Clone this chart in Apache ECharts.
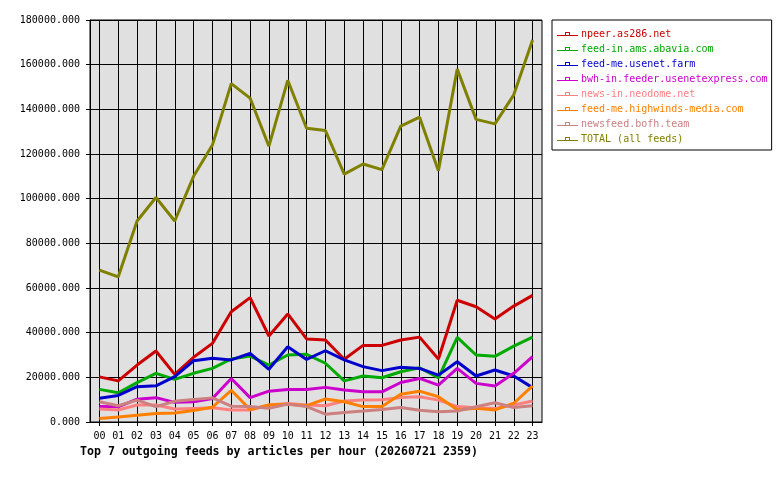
<!DOCTYPE html>
<html>
<head>
<meta charset="utf-8">
<script src="https://cdn.jsdelivr.net/npm/echarts@6/dist/echarts.min.js"></script>
<style>html,body{margin:0;padding:0;background:#fff}#c{width:780px;height:480px}</style>
</head>
<body>
<div id="c"></div>
<script>
var hours = ['00','01','02','03','04','05','06','07','08','09','10','11','12','13','14','15','16','17','18','19','20','21','22','23'];
var seriesNames = ['npeer.as286.net','feed-in.ams.abavia.com','feed-me.usenet.farm','bwh-in.feeder.usenetexpress.com','news-in.neodome.net','feed-me.highwinds-media.com','newsfeed.bofh.team','TOTAL (all feeds)'];
var seriesColors = ['#cc0000','#00aa00','#0000cc','#cc00cc','#ff8080','#ff8000','#cc8080','#808000'];
var npeer = [20200,18400,25500,31800,21300,29000,35200,49400,55700,38500,48400,37200,36700,28100,34300,34300,36700,38000,28200,54500,51600,46100,51900,56700];
var abavia = [14600,13100,17600,21800,19100,21800,24000,28200,29500,25500,30000,30300,26300,18400,20600,19800,22500,24300,19800,37900,30000,29400,34000,38000];
var usenetFarm = [10600,11900,15800,16200,20300,27400,28500,27800,30700,23600,33700,28000,31900,27800,24800,23000,24500,24000,21000,27000,20600,23300,20600,15400];
var usenetExpress = [6900,6800,10200,10900,8800,9100,10500,19500,10900,13800,14600,14600,15500,14300,13500,13500,17700,19500,16500,24000,17300,16100,21800,29300];
var neodome = [5800,5400,7600,7600,5800,6100,6400,5400,5400,7600,8300,7600,7300,9400,9800,10000,11000,11300,9800,6900,6400,6100,7600,9400];
var highwinds = [1600,2200,3000,3800,4000,5100,6600,14200,5600,7600,7900,7300,10300,9100,6900,6900,12400,13800,11300,5500,6100,5400,8400,16200];
var bofh = [9100,7300,9800,6900,9300,10100,10800,7100,6900,6100,8000,6900,3500,4300,4900,5600,6500,5300,4600,4900,6800,8600,6500,7300];
var total = [68000,65000,90000,100500,90000,110000,124000,151500,145000,123500,153000,131500,130500,111000,115500,113000,132500,136500,112500,158000,135500,133500,146500,171000];
var yTicks = {min: 0, max: 180000, step: 20000};

var allData = [npeer, abavia, usenetFarm, usenetExpress, neodome, highwinds, bofh, total];
var mono = 'DejaVu Sans Mono';
var iconPath = 'path://M0,4h21v1h-21z M8,1h5v1h-5z M8,1h1v3h-1z M12,1h1v3h-1z';

var series = seriesNames.map(function (n, i) {
  return {
    name: n,
    type: 'line',
    data: allData[i],
    symbol: 'none',
    showSymbol: false,
    lineStyle: {width: 3, color: seriesColors[i]},
    itemStyle: {color: seriesColors[i]},
    z: 2 + i
  };
});

var chart = echarts.init(document.getElementById('c'), null, {renderer: 'canvas'});
chart.setOption({
  animation: false,
  backgroundColor: '#ffffff',
  color: seriesColors,
  title: {
    text: 'Top 7 outgoing feeds by articles per hour (20260721 2359)',
    left: 80,
    top: 446,
    padding: 0,
    textStyle: {fontFamily: mono, fontSize: 11.6, fontWeight: 'bold', color: '#000'}
  },
  legend: {
    orient: 'vertical',
    left: 552,
    top: 20,
    padding: [8, 4, 5, 5],
    backgroundColor: '#ffffff',
    borderColor: '#000',
    borderWidth: 1,
    itemWidth: 21,
    itemHeight: 5,
    itemGap: 3,
    icon: iconPath,
    itemStyle: {borderWidth: 0},
    textStyle: {fontFamily: mono, fontSize: 10, lineHeight: 12, padding: [0, 0, 0, -2]},
    data: seriesNames.map(function (n, i) {
      return {name: n, icon: iconPath, textStyle: {color: seriesColors[i]}};
    })
  },
  grid: {
    left: 90, right: 238, top: 20, bottom: 58,
    show: true,
    backgroundColor: '#e0e0e0',
    borderColor: '#000',
    borderWidth: 1,
    containLabel: false
  },
  xAxis: {
    type: 'category',
    data: hours,
    boundaryGap: true,
    axisLine: {lineStyle: {color: '#000', width: 1}},
    axisTick: {show: true, alignWithLabel: true, length: 4, lineStyle: {color: '#000'}},
    axisLabel: {color: '#000', fontFamily: mono, fontSize: 10, margin: 9, interval: 0},
    splitLine: {show: true, alignWithLabel: true, lineStyle: {color: '#000', width: 1}}
  },
  yAxis: {
    type: 'value',
    min: yTicks.min,
    max: yTicks.max,
    interval: yTicks.step,
    axisLine: {show: true, lineStyle: {color: '#000', width: 1}},
    axisTick: {show: true, length: 4, lineStyle: {color: '#000'}},
    axisLabel: {color: '#000', fontFamily: mono, fontSize: 10, margin: 10,
      formatter: function (v) { return v.toFixed(3); }},
    splitLine: {show: true, lineStyle: {color: '#000', width: 1}}
  },
  series: series
});
</script>
</body>
</html>
